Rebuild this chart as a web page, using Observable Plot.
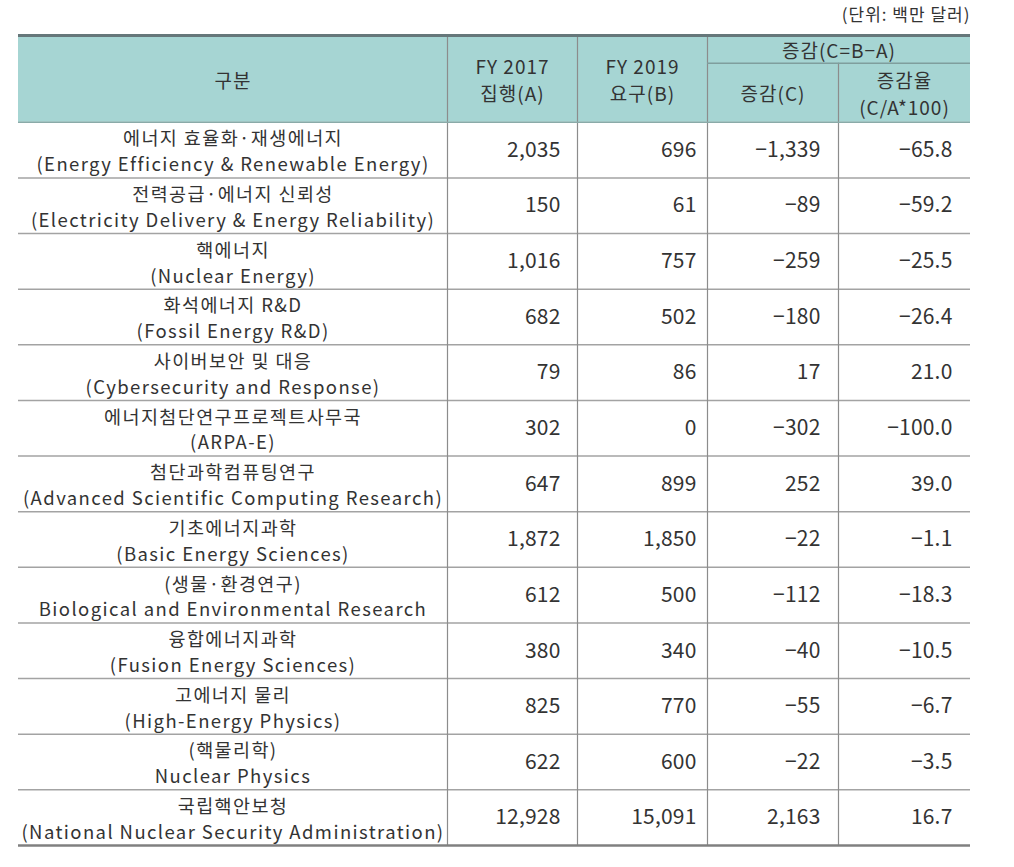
<!DOCTYPE html>
<html>
<head>
<meta charset="utf-8">
<script src="https://cdn.jsdelivr.net/npm/d3@7"></script>
<script src="https://cdn.jsdelivr.net/npm/@observablehq/plot@0.6"></script>
<style>
  html, body { margin: 0; padding: 0; background: #fff; }
  #chart svg { display: block; }
</style>
</head>
<body>
<div id="chart"></div>
<script>
// ---------- data ----------
const labelsKo = [
  "에너지 효율화·재생에너지",
  "전력공급·에너지 신뢰성",
  "핵에너지",
  "화석에너지 R&D",
  "사이버보안 및 대응",
  "에너지첨단연구프로젝트사무국",
  "첨단과학컴퓨팅연구",
  "기초에너지과학",
  "(생물·환경연구)",
  "융합에너지과학",
  "고에너지 물리",
  "(핵물리학)",
  "국립핵안보청"
];
const labelsEn = [
  "(Energy Efficiency & Renewable Energy)",
  "(Electricity Delivery & Energy Reliability)",
  "(Nuclear Energy)",
  "(Fossil Energy R&D)",
  "(Cybersecurity and Response)",
  "(ARPA-E)",
  "(Advanced Scientific Computing Research)",
  "(Basic Energy Sciences)",
  "Biological and Environmental Research",
  "(Fusion Energy Sciences)",
  "(High-Energy Physics)",
  "Nuclear Physics",
  "(National Nuclear Security Administration)"
];
const fy2017 = [2035, 150, 1016, 682, 79, 302, 647, 1872, 612, 380, 825, 622, 12928];
const fy2019 = [696, 61, 757, 502, 86, 0, 899, 1850, 500, 340, 770, 600, 15091];
const change = [-1339, -89, -259, -180, 17, -302, 252, -22, -112, -40, -55, -22, 2163];
const rate = [-65.8, -59.2, -25.5, -26.4, 21.0, -100.0, 39.0, -1.1, -18.3, -10.5, -6.7, -3.5, 16.7];

const headerTexts = ["구분", "FY 2017\n집행(A)", "FY 2019\n요구(B)", "증감(C)", "증감율\n(C/A*100)"];
const groupHeader = "증감(C=B−A)";
const unitNote = "(단위: 백만 달러)";

// ---------- layout ----------
const colWidths = [429, 130, 130, 131, 132];
const numPadding = [17, 11, 18, 18];
const headerTop = -1.56, subTop = -1.06;   // in row units
const font = "'Noto Sans CJK KR', 'Noto Sans', sans-serif";

const edges = [0];
colWidths.forEach(w => edges.push(edges[edges.length - 1] + w));
const total = edges[edges.length - 1];
const nRows = labelsKo.length;
const center = j => (edges[j] + edges[j + 1]) / 2;

const rows = labelsKo.map((ko, i) => ({
  i, label: ko + "\n" + labelsEn[i],
  vals: [d3.format(",")(fy2017[i]), d3.format(",")(fy2019[i]), d3.format(",")(change[i]), d3.format(".1f")(rate[i])]
}));

const headerCells = [
  {x: center(0), y: headerTop / 2, text: headerTexts[0]},
  {x: center(1), y: headerTop / 2, text: headerTexts[1]},
  {x: center(2), y: headerTop / 2, text: headerTexts[2]},
  {x: center(3), y: subTop / 2, text: headerTexts[3]},
  {x: center(4), y: subTop / 2, text: headerTexts[4]},
  {x: (edges[3] + edges[5]) / 2, y: (headerTop + subTop) / 2, text: groupHeader}
];

const innerRowLines = d3.range(1, nRows);
const vLines = [
  {x: edges[1], y1: headerTop},
  {x: edges[2], y1: headerTop},
  {x: edges[3], y1: headerTop},
  {x: edges[4], y1: subTop}
];

const numberMarks = [0, 1, 2, 3].map(k =>
  Plot.text(rows, {x: edges[k + 2], y: d => d.i + 0.5, text: d => d.vals[k], fontSize: 21, fill: "#333", textAnchor: "end", dx: -numPadding[k]})
);

const chart = Plot.plot({
  width: 1014,
  height: 867,
  marginLeft: 18,
  marginRight: 1014 - 18 - total,
  marginTop: 35,
  marginBottom: 22,
  x: {domain: [0, total], axis: null},
  y: {domain: [headerTop, nRows], reverse: true, axis: null},
  style: {fontFamily: font, background: "#fff"},
  marks: [
    Plot.rect([{}], {x1: 0, x2: total, y1: headerTop, y2: 0, fill: "#a6d5d3"}),
    Plot.ruleY(innerRowLines, {y: d => d, x1: 0, x2: total, stroke: "#a3a3a3", strokeWidth: 1.5}),
    Plot.ruleX(vLines, {x: "x", y1: "y1", y2: nRows, stroke: "#8c8c8c", strokeWidth: 1.2}),
    Plot.ruleY([subTop], {x1: edges[3], x2: total, stroke: "#7f9e9d", strokeWidth: 1.5}),
    Plot.ruleY([0], {x1: 0, x2: total, stroke: "#8aaaa8", strokeWidth: 1.5}),
    Plot.ruleY([headerTop], {x1: 0, x2: total, stroke: "#66777a", strokeWidth: 3}),
    Plot.ruleY([nRows], {x1: 0, x2: total, stroke: "#808080", strokeWidth: 2.5}),
    Plot.text([unitNote], {x: total, y: headerTop, text: d => d, fontSize: 17, fill: "#333", textAnchor: "end", dy: -20}),
    Plot.text(headerCells, {x: "x", y: "y", text: "text", fontSize: 19, fill: "#333", lineHeight: 1.42, textAnchor: "middle"}),
    Plot.text(rows, {x: center(0), y: d => d.i + 0.5, text: "label", fontSize: 18.5, fill: "#333", lineHeight: 1.4, textAnchor: "middle"}),
    ...numberMarks
  ]
});
// letter spacing per text group (note, header, labels, numbers...)
const spacing = ["1px", "1px", "1.4px"];
d3.select(chart).selectAll('g[aria-label="text"]').each(function(_, k) {
  d3.select(this).attr("letter-spacing", spacing[k] ?? "0.2px");
});
document.getElementById("chart").appendChild(chart);
</script>
</body>
</html>
